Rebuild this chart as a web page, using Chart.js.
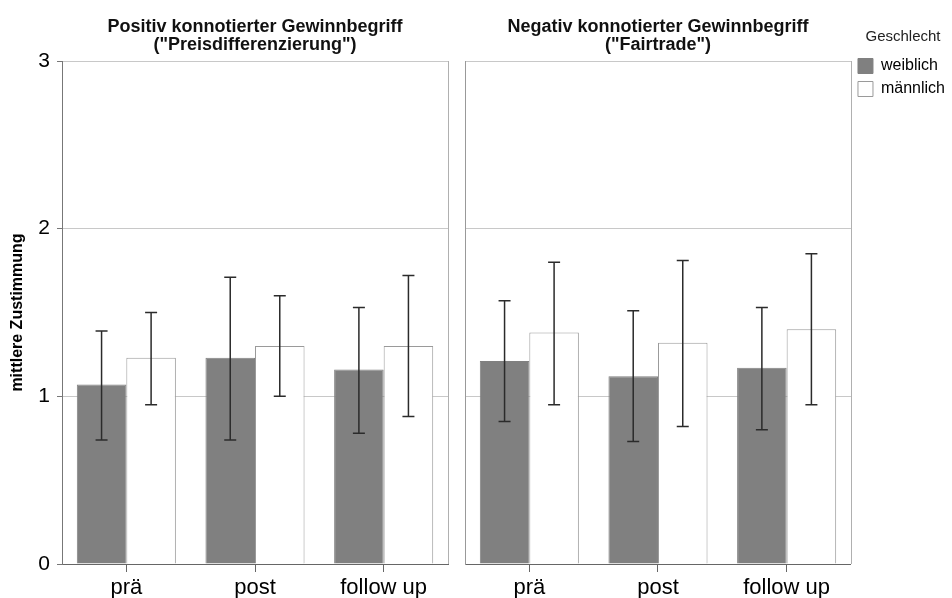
<!DOCTYPE html>
<html lang="de">
<head>
<meta charset="UTF-8">
<title>Mittlere Zustimmung nach Geschlecht</title>
<script src="https://cdnjs.cloudflare.com/ajax/libs/Chart.js/4.4.1/chart.umd.min.js"></script>
<style>
    html, body { margin: 0; padding: 0; background: #fff; overflow: hidden; }
    body { width: 952px; height: 598px; position: relative; }
    canvas { position: absolute; top: 0; }
    #leftPanel { left: 0; }
    #rightPanel { left: 460px; }
</style>
</head>
<body>
<canvas id="leftPanel" width="452" height="598"></canvas>
<canvas id="rightPanel" width="495" height="598"></canvas>
<script>
const zeitpunkte = ['prä', 'post', 'follow up'];
const yTicks = [0, 1, 2, 3];
const geschlecht = ['weiblich', 'männlich'];

// Positiv konnotierter Gewinnbegriff ("Preisdifferenzierung")
const posWeiblich      = [1.07, 1.23, 1.16];
const posWeiblichLow   = [0.74, 0.74, 0.78];
const posWeiblichHigh  = [1.39, 1.71, 1.53];
const posMaennlich     = [1.23, 1.30, 1.30];
const posMaennlichLow  = [0.95, 1.00, 0.88];
const posMaennlichHigh = [1.50, 1.60, 1.72];

// Negativ konnotierter Gewinnbegriff ("Fairtrade")
const negWeiblich      = [1.21, 1.12, 1.17];
const negWeiblichLow   = [0.85, 0.73, 0.80];
const negWeiblichHigh  = [1.57, 1.51, 1.53];
const negMaennlich     = [1.38, 1.32, 1.40];
const negMaennlichLow  = [0.95, 0.82, 0.95];
const negMaennlichHigh = [1.80, 1.81, 1.85];

Chart.defaults.font.family = "'Liberation Sans', Arial, sans-serif";
Chart.defaults.color = '#000';

// whiskers for the error bars, placed on the bars through the y scale
const errorBars = {
    id: 'errorBars',
    afterDatasetsDraw(chart) {
        const ctx = chart.ctx;
        const y = chart.scales.y;
        ctx.save();
        ctx.strokeStyle = '#2b2b2b';
        ctx.lineWidth = 1.5;
        chart.data.datasets.forEach((ds, i) => {
            chart.getDatasetMeta(i).data.forEach((bar, j) => {
                const top = y.getPixelForValue(ds.errHigh[j]);
                const bottom = y.getPixelForValue(ds.errLow[j]);
                ctx.beginPath();
                ctx.moveTo(bar.x, top);
                ctx.lineTo(bar.x, bottom);
                ctx.moveTo(bar.x - 6, top);
                ctx.lineTo(bar.x + 6, top);
                ctx.moveTo(bar.x - 6, bottom);
                ctx.lineTo(bar.x + 6, bottom);
                ctx.stroke();
            });
        });
        ctx.restore();
    }
};

// right edge of the panel frame
const panelFrame = {
    id: 'panelFrame',
    afterDraw(chart) {
        const {ctx, chartArea} = chart;
        ctx.save();
        ctx.strokeStyle = '#b0b0b0';
        ctx.lineWidth = 1;
        ctx.beginPath();
        ctx.moveTo(Math.round(chartArea.right) + 0.5, chartArea.top);
        ctx.lineTo(Math.round(chartArea.right) + 0.5, chartArea.bottom);
        ctx.stroke();
        ctx.restore();
    }
};

function makePanel(id, titleLines, w, wLow, wHigh, m, mLow, mHigh, firstPanel) {
    const ctx = document.getElementById(id).getContext('2d');
    return new Chart(ctx, {
        type: 'bar',
        data: {
            labels: zeitpunkte,
            datasets: [
                {
                    label: geschlecht[0],
                    data: w,
                    errLow: wLow,
                    errHigh: wHigh,
                    backgroundColor: '#808080',
                    borderColor: '#808080',
                    borderWidth: 1,
                    categoryPercentage: 0.77,
                    barPercentage: 1.0
                },
                {
                    label: geschlecht[1],
                    data: m,
                    errLow: mLow,
                    errHigh: mHigh,
                    backgroundColor: '#ffffff',
                    borderColor: '#9a9a9a',
                    borderWidth: 1,
                    categoryPercentage: 0.77,
                    barPercentage: 1.0
                }
            ]
        },
        options: {
            responsive: false,
            animation: false,
            layout: { padding: firstPanel ? { right: 4 } : 0 },
            plugins: {
                title: {
                    display: true,
                    text: titleLines,
                    fullSize: false,
                    color: '#111',
                    font: { size: 18, weight: 'bold', lineHeight: 1.0 },
                    padding: { top: 18, bottom: 7 }
                },
                legend: {
                    display: !firstPanel,
                    position: 'right',
                    align: 'start',
                    title: {
                        display: true,
                        text: 'Geschlecht',
                        color: '#222',
                        position: 'center',
                        font: { size: 15 },
                        padding: { top: 29, bottom: 4 }
                    },
                    labels: {
                        color: '#000',
                        font: { size: 16 },
                        boxWidth: 15,
                        boxHeight: 15,
                        padding: 7
                    }
                },
                tooltip: { enabled: false }
            },
            scales: {
                x: {
                    offset: true,
                    grid: { drawOnChartArea: false, offset: false, tickLength: 8, tickColor: '#666' },
                    border: { color: '#666' },
                    ticks: { color: '#000', font: { size: 22 }, padding: 3, maxRotation: 0, autoSkip: false },
                    afterFit: s => { s.height = 34; }
                },
                y: {
                    min: 0,
                    max: 3,
                    afterBuildTicks: s => { s.ticks = yTicks.map(v => ({ value: v })); },
                    ticks: { display: firstPanel, color: '#000', font: { size: 21 }, padding: 7 },
                    grid: { color: '#c8c8c8', tickColor: '#777', tickLength: 5, drawTicks: firstPanel },
                    border: { color: firstPanel ? '#777' : '#999' },
                    title: {
                        display: firstPanel,
                        text: 'mittlere Zustimmung',
                        color: '#000',
                        font: { size: 16, weight: 'bold' },
                        padding: { top: 8 }
                    },
                    afterFit: s => { s.width = firstPanel ? 62 : 5; }
                }
            }
        },
        plugins: [errorBars, panelFrame]
    });
}

makePanel('leftPanel',
    ['Positiv konnotierter Gewinnbegriff', '("Preisdifferenzierung")'],
    posWeiblich, posWeiblichLow, posWeiblichHigh,
    posMaennlich, posMaennlichLow, posMaennlichHigh, true);

makePanel('rightPanel',
    ['Negativ konnotierter Gewinnbegriff', '("Fairtrade")'],
    negWeiblich, negWeiblichLow, negWeiblichHigh,
    negMaennlich, negMaennlichLow, negMaennlichHigh, false);
</script>
</body>
</html>
